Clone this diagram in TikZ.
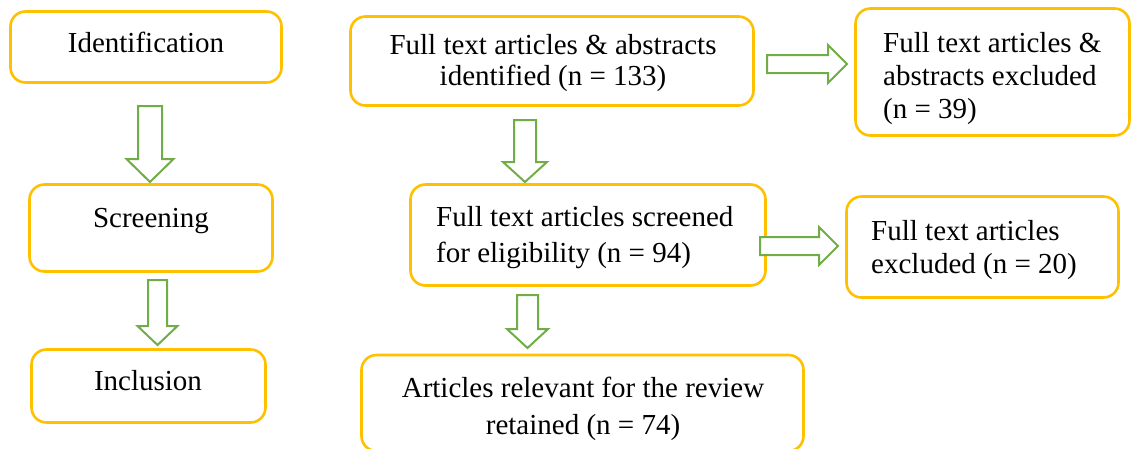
\documentclass[tikz,border=0pt]{standalone}
\usepackage{fontspec}
\setmainfont{Liberation Serif}
\definecolor{boxgold}{RGB}{255,192,0}
\definecolor{arrowgreen}{RGB}{112,173,71}

% stacked text lines with a fixed baseline distance; the node's baseline is the first line
\newcommand\textrows[3]{\vtop{\baselineskip=#2pt\lineskiplimit=-1000pt\tabskip=0pt
  \halign{#1##\hfil\cr#3\crcr}}}

% hollow block arrows
\newcommand\downblock[6]{% centre x, top, neck, tip, half shaft, half head
  \draw[blockarrow] (#1-#5,#2) -- (#1+#5,#2) -- (#1+#5,#3) -- (#1+#6,#3)
    -- (#1,#4) -- (#1-#6,#3) -- (#1-#5,#3) -- cycle;}
\newcommand\rightblock[6]{% centre y, left, neck, tip, half shaft, half head
  \draw[blockarrow] (#2,#1-#5) -- (#3,#1-#5) -- (#3,#1-#6) -- (#4,#1)
    -- (#3,#1+#6) -- (#3,#1+#5) -- (#2,#1+#5) -- cycle;}

\begin{document}
\begin{tikzpicture}[x=1pt,y=-1pt,
  stagebox/.style={draw=boxgold, line width=2.6pt, rounded corners=15pt,
    fill=white, inner sep=0pt},
  blockarrow/.style={draw=arrowgreen, line width=2pt, fill=white,
    line join=miter},
  label/.style={inner sep=0pt, font=\fontsize{29}{33}\selectfont}]
\useasboundingbox (0,0) rectangle (1133,448);

% stage boxes (left column)
\node[stagebox, minimum width=271pt, minimum height=71pt] (ident) at (146,47) {};
\node[stagebox, minimum width=243pt, minimum height=87pt] (screen) at (151,228) {};
\node[stagebox, minimum width=234pt, minimum height=73pt] (incl) at (148.5,386) {};

% flow boxes
\node[stagebox, minimum width=403pt, minimum height=89pt] (found) at (552,61) {};
\node[stagebox, minimum width=355pt, minimum height=101pt] (elig) at (588,235) {};
\node[stagebox, minimum width=442pt, minimum height=96pt] (kept) at (582.5,403) {};
\node[stagebox, minimum width=274pt, minimum height=127pt] (excla) at (992.5,72) {};
\node[stagebox, minimum width=272pt, minimum height=101pt] (exclb) at (982.5,247) {};

% arrows
\downblock{150}{106}{159}{182}{12}{23.5}
\downblock{157.5}{280}{326}{345}{9.5}{20}
\downblock{525}{120}{162}{182}{11}{22}
\downblock{527.5}{295}{329}{348}{10.5}{20.5}
\rightblock{64}{767}{828}{847}{9}{19}
\rightblock{246}{760}{819}{838}{9}{19}

% texts
\node[label, anchor=base] (tident) at (146,52) {Identification};
\node[label, anchor=base] (tscreen) at (151,227) {Screening};
\node[label, anchor=base] (tincl) at (148,390) {Inclusion};
\node[label, anchor=base] (tfound) at (553,54)
  {\textrows{\hfil}{31}{Full text articles \& abstracts\cr identified (n = 133)}};
\node[label, anchor=base west] (telig) at (436,226)
  {\textrows{}{36}{Full text articles screened\cr for eligibility (n = 94)}};
\begin{scope}
  \clip (300,300) rectangle (900,441);
  \node[label, anchor=base] (tkept) at (583,397)
    {\textrows{\hfil}{37}{Articles relevant for the review\cr retained (n = 74)}};
\end{scope}
\node[label, anchor=base west] (texcla) at (883,52)
  {\textrows{}{33}{Full text articles \&\cr abstracts excluded\cr (n = 39)}};
\node[label, anchor=base west] (texclb) at (871,240)
  {\textrows{}{33}{Full text articles\cr excluded (n = 20)}};
\end{tikzpicture}
\end{document}
